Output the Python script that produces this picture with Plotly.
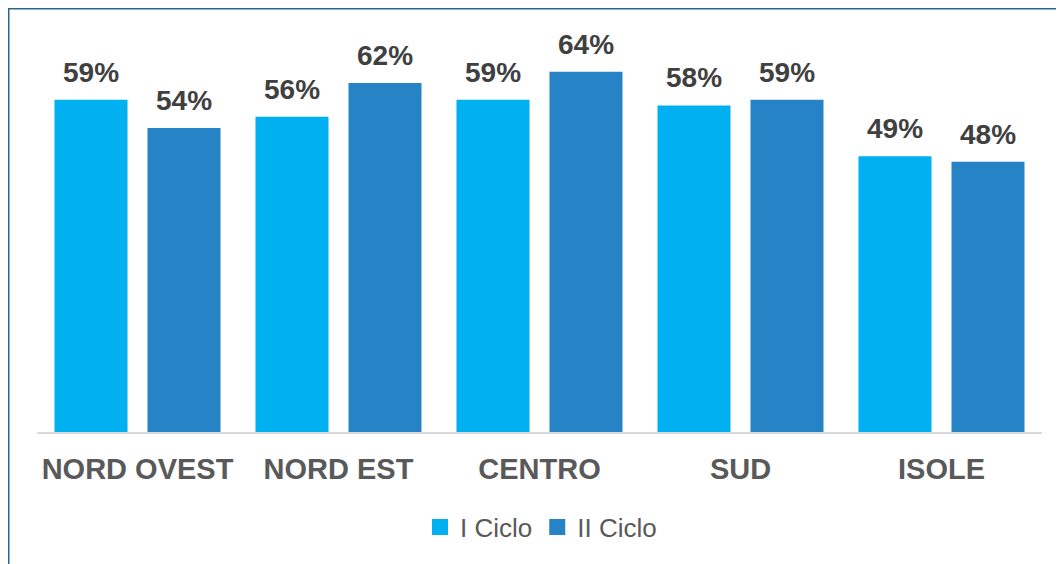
import plotly.graph_objects as go

categories = ["NORD OVEST", "NORD EST", "CENTRO", "SUD", "ISOLE"]
ciclo1 = [59, 56, 59, 58, 49]
ciclo2 = [54, 62, 64, 59, 48]
series_names = ["I Ciclo", "II Ciclo"]
colors = ["#00B0F0", "#2683C6"]

W, H = 1064, 564
OFF = 8  # page body margin
L, T = 37 - OFF, 20 - OFF
plot_w, plot_h = 1005, 412
R = W - L - plot_w
B = H - T - plot_h
ymax = plot_h / 5.63

fig = go.Figure()
for name, vals, col in zip(series_names, [ciclo1, ciclo2], colors):
    fig.add_trace(go.Bar(x=categories, y=vals, name=name, showlegend=False,
                         marker=dict(color=col, line=dict(width=0))))
    fig.add_trace(go.Scatter(x=[None], y=[None], mode="markers", name=name, showlegend=True,
                             marker=dict(symbol="square", size=16, color=col)))

# data labels
for vals, shift in [(ciclo1, -46.5), (ciclo2, 46.5)]:
    for c, v in zip(categories, vals):
        fig.add_annotation(x=c, y=v, text=f"{v}%", showarrow=False, xshift=shift,
                           yanchor="bottom", yshift=10,
                           font=dict(family="Liberation Sans, Arial", size=28, color="#404040", weight="bold"))

def px_x(p):
    return (p - OFF - L) / plot_w

def px_y(p):
    return (T + plot_h - (p - OFF)) / plot_h

fig.add_shape(type="rect", xref="paper", yref="paper",
              x0=px_x(8.5), x1=px_x(1100), y0=px_y(620), y1=px_y(8.5),
              line=dict(color="#2A6688", width=2), fillcolor="rgba(0,0,0,0)", layer="above")

fig.update_layout(
    width=W, height=H,
    margin=dict(l=L, r=R, t=T, b=B),
    paper_bgcolor="white", plot_bgcolor="white",
    barmode="group", bargap=0.0746, bargroupgap=0.215,
    showlegend=True,
    legend=dict(orientation="h", x=px_x(541), xanchor="center", y=px_y(527), yanchor="middle",
                font=dict(family="Liberation Sans, Arial", size=26, color="#595959"),
                itemsizing="trace", itemwidth=30),
    xaxis=dict(showline=True, linecolor="#D9D9D9", linewidth=2, ticks="", ticklabelstandoff=10,
               tickfont=dict(family="Liberation Sans, Arial", size=29, color="#595959", weight="bold"),
               showgrid=False, fixedrange=True),
    yaxis=dict(range=[0, ymax], visible=False, showgrid=False, fixedrange=True),
)

fig.write_html("out.html")
